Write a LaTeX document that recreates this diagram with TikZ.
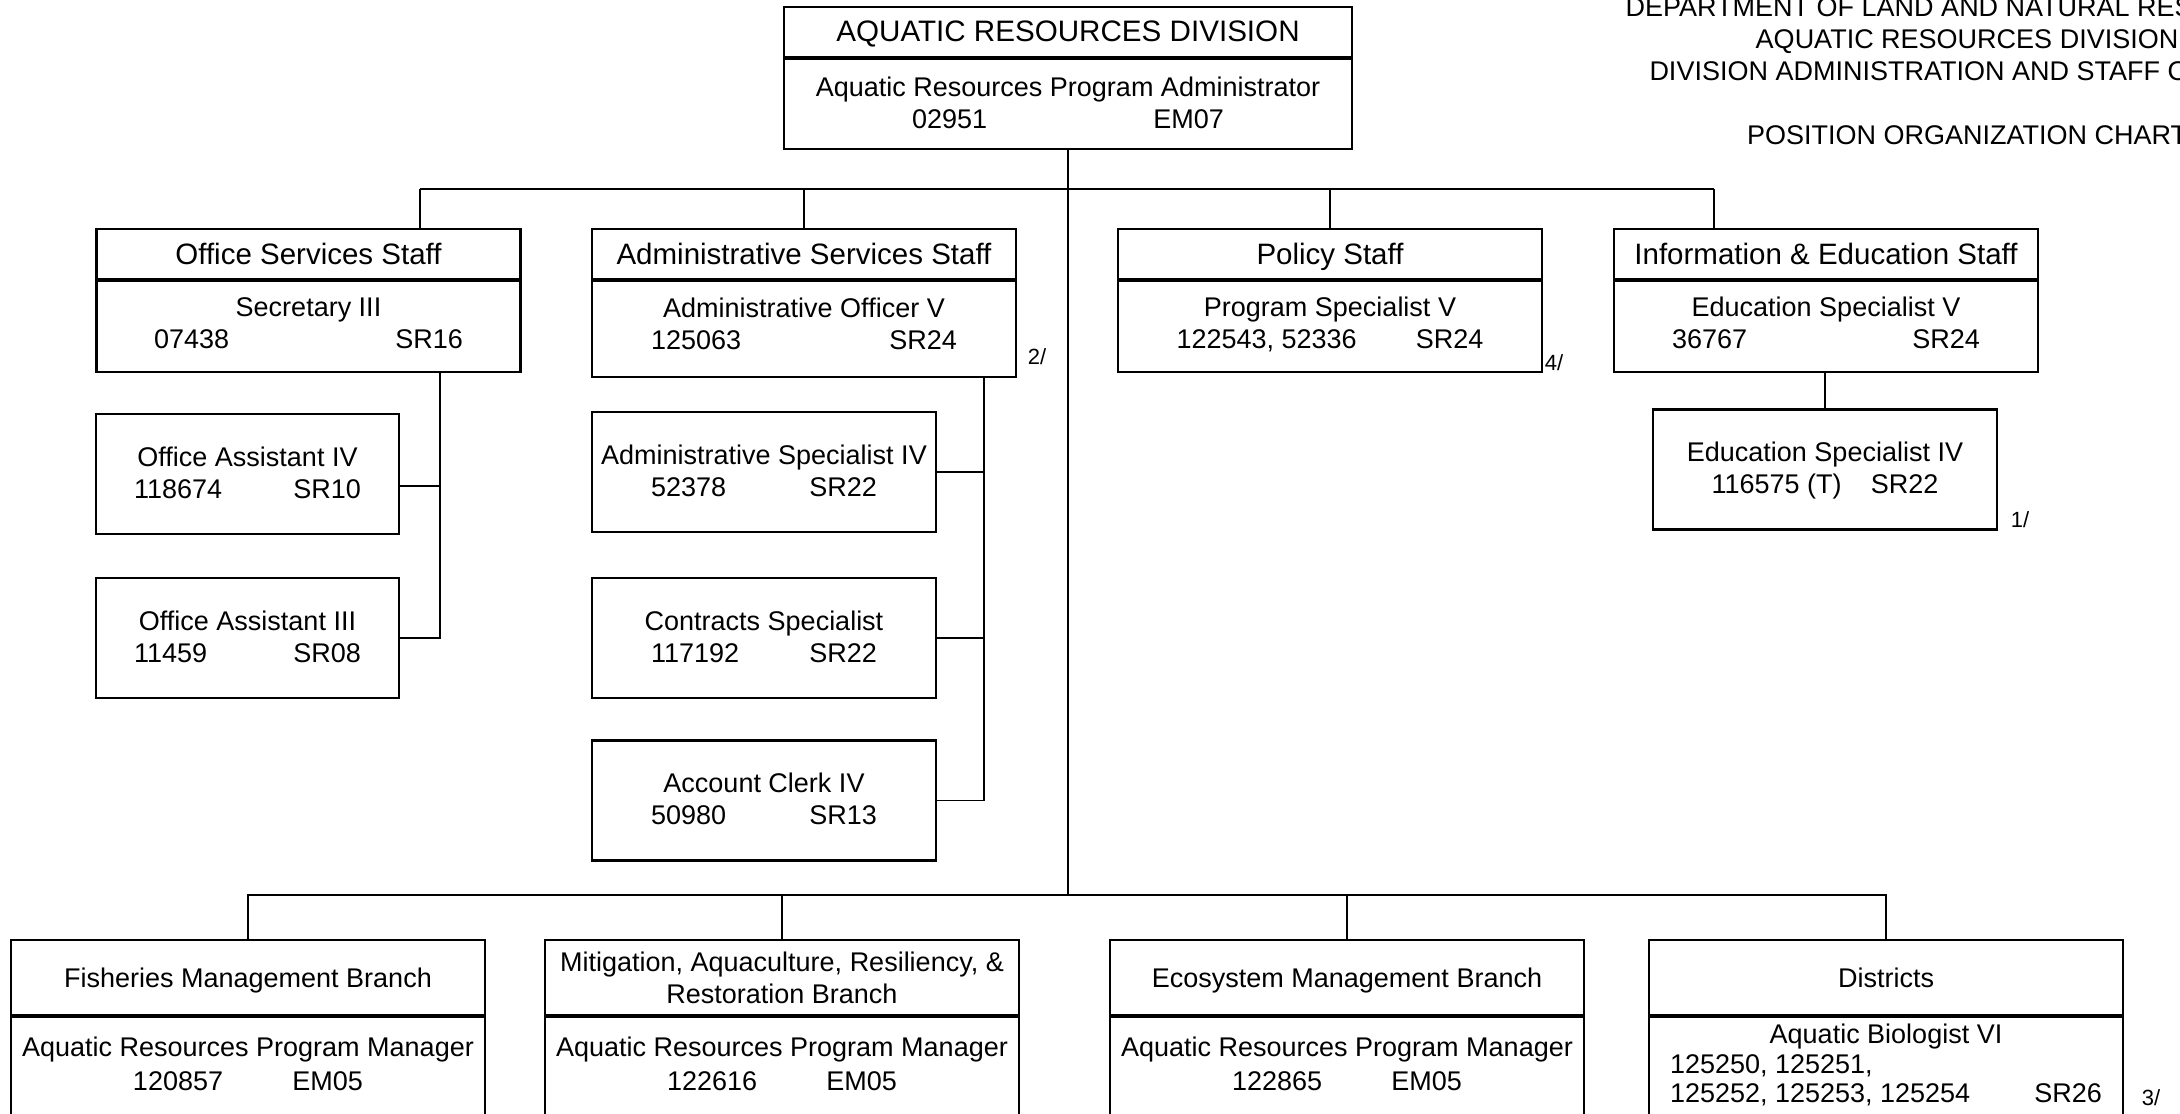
\documentclass[tikz,border=0pt]{standalone}
\usepackage{fontspec}
\setmainfont{Liberation Sans}
\usetikzlibrary{positioning}

% title line over number and grade line
\newcommand{\postxt}[5][2.8pt]{\rule{0pt}{11.2pt}#2\\\makebox[#3]{#4\hfill #5}\rule[-#1]{0pt}{#1}}

\begin{document}
\begin{tikzpicture}[x=0.5pt,y=-0.5pt,
        box/.style={draw,line width=1.1pt,rectangle,inner sep=0pt,align=center,
            font=\fontsize{13.5pt}{16pt}\selectfont},
        hdr/.style={box,minimum width=212pt,minimum height=25pt,text height=10.75pt,text depth=0pt,
            font=\fontsize{14.75pt}{16pt}\selectfont},
        body/.style={box,minimum width=212pt,minimum height=45.5pt},
        sub/.style={box,minimum width=172pt,minimum height=60pt},
        bhdr/.style={box,minimum width=237pt,minimum height=37.5pt},
        bone/.style={bhdr,text height=9.8pt,text depth=0pt},
        bbody/.style={box,minimum width=237pt,minimum height=55pt,
            font=\fontsize{13.5pt}{16.75pt}\selectfont},
        wire/.style={line width=0.9pt},
        note/.style={inner sep=0pt,font=\fontsize{11pt}{13pt}\selectfont}]
    \useasboundingbox (0,0) rectangle (2180,1114);
    \clip (0,0) rectangle (2180,1114);

    % heading
    \node[align=center,inner sep=0pt,font=\fontsize{13.5pt}{16pt}\selectfont] (ttl) at (1967,71)
        {DEPARTMENT OF LAND AND NATURAL RESOURCES\\AQUATIC RESOURCES DIVISION\\
         DIVISION ADMINISTRATION AND STAFF OFFICES\\[16pt]POSITION ORGANIZATION CHART};

    % division head
    \node[hdr,minimum width=284pt,text height=9.2pt,font=\fontsize{14.8pt}{16pt}\selectfont] (div_h) at (1068,32) {AQUATIC RESOURCES DIVISION};
    \node[body,minimum width=284pt,minimum height=45pt] (div_b) [below=0pt of div_h]
        {\postxt{Aquatic Resources Program Administrator}{156pt}{02951}{EM07}};

    % staff offices
    \node[hdr] (oss_h) at (308.5,254) {Office Services Staff};
    \node[body] (oss_b) [below=0pt of oss_h] {\postxt[5.6pt]{Secretary III}{154.5pt}{07438}{SR16}};
    \node[hdr] (ass_h) at (804,254) {Administrative Services Staff};
    \node[body,minimum height=48pt] (ass_b) [below=0pt of ass_h] {\postxt[7pt]{Administrative Officer V}{153pt}{125063}{SR24}};
    \node[hdr] (pol_h) at (1330,254) {Policy Staff};
    \node[body] (pol_b) [below=0pt of pol_h] {\postxt[5.6pt]{Program Specialist V}{153.5pt}{122543, 52336}{SR24}};
    \node[hdr] (ies_h) at (1826,254) {Information \& Education Staff};
    \node[body] (ies_b) [below=0pt of ies_h] {\postxt[5.6pt]{Education Specialist V}{154pt}{36767}{SR24}};

    \node[sub,minimum width=151.5pt] (oa4) at (247.5,474) {\postxt{Office Assistant IV}{113.5pt}{118674}{SR10}};
    \node[sub,minimum width=151.5pt] (oa3) at (247.5,638) {\postxt{Office Assistant III}{113.5pt}{11459}{SR08}};
    \node[sub] (asp) at (764,472) {\postxt{Administrative Specialist IV}{113pt}{52378}{SR22}};
    \node[sub] (csp) at (764,638) {\postxt{Contracts Specialist}{113pt}{117192}{SR22}};
    \node[sub] (acl) at (764,800.5) {\postxt{Account Clerk IV}{113pt}{50980}{SR13}};
    \node[sub] (esp) at (1825,469.5) {\postxt{Education Specialist IV}{113.5pt}{116575 (T)}{SR22}};

    % branches
    \node[bone] (fmb_h) at (248,977.5) {Fisheries Management Branch};
    \node[bbody] (fmb_b) [below=0pt of fmb_h] {\postxt[9.8pt]{Aquatic Resources Program Manager}{115pt}{120857}{EM05}};
    \node[bhdr] (mar_h) at (782,977.5) {Mitigation, Aquaculture, Resiliency, \&\\Restoration Branch};
    \node[bbody] (mar_b) [below=0pt of mar_h] {\postxt[9.8pt]{Aquatic Resources Program Manager}{115pt}{122616}{EM05}};
    \node[bone] (emb_h) at (1347,977.5) {Ecosystem Management Branch};
    \node[bbody] (emb_b) [below=0pt of emb_h] {\postxt[9.8pt]{Aquatic Resources Program Manager}{115pt}{122865}{EM05}};
    \node[bone] (dis_h) at (1886,977.5) {Districts};
    \node[bbody,minimum height=53.8pt,font=\fontsize{13.5pt}{14.75pt}\selectfont] (dis_b) [below=0pt of dis_h]
        {\rule{0pt}{11.2pt}Aquatic Biologist VI\\\makebox[216pt]{125250, 125251,\hfill}\\
         \makebox[216pt]{125252, 125253, 125254\hfill SR26}\rule[-8.8pt]{0pt}{8.8pt}};

    % footnote marks
    \node[note] (n2) at (1037,357) {2/};
    \node[note] (n4) at (1554,363) {4/};
    \node[note] (n1) at (2020,520) {1/};
    \node[note] (n3) at (2151,1098) {3/};

    % lines
    \coordinate (b1) at (1068,189);
    \coordinate (b2) at (1068,895);
    \coordinate (t_oss) at (420,189);
    \coordinate (t_ies) at (1714,189);
    \coordinate (k_oss) at (440,486);
    \coordinate (k_ass) at (984,376);

    \draw[wire] (div_b.south) -- (b2);
    \draw[wire] (t_oss) -- (t_ies);
    \draw[wire] (t_oss) -- (t_oss |- oss_h.north);
    \draw[wire] (t_ies) -- (t_ies |- ies_h.north);
    \draw[wire] (ass_h.north) -- (ass_h.north |- b1);
    \draw[wire] (pol_h.north) -- (pol_h.north |- b1);

    \draw[wire] (oss_b.south -| k_oss) |- (oa3.east);
    \draw[wire] (k_oss) -- (k_oss -| oa4.east);
    \draw[wire] (ass_b.south -| k_ass) |- (acl.east);
    \draw[wire] (asp.east) -- (asp.east -| k_ass);
    \draw[wire] (csp.east) -- (csp.east -| k_ass);
    \draw[wire] (esp.north |- ies_b.south) -- (esp.north);

    \draw[wire] (fmb_h.north) |- (b2) -| (dis_h.north);
    \draw[wire] (mar_h.north) -- (mar_h.north |- b2);
    \draw[wire] (emb_h.north) -- (emb_h.north |- b2);
\end{tikzpicture}
\end{document}
